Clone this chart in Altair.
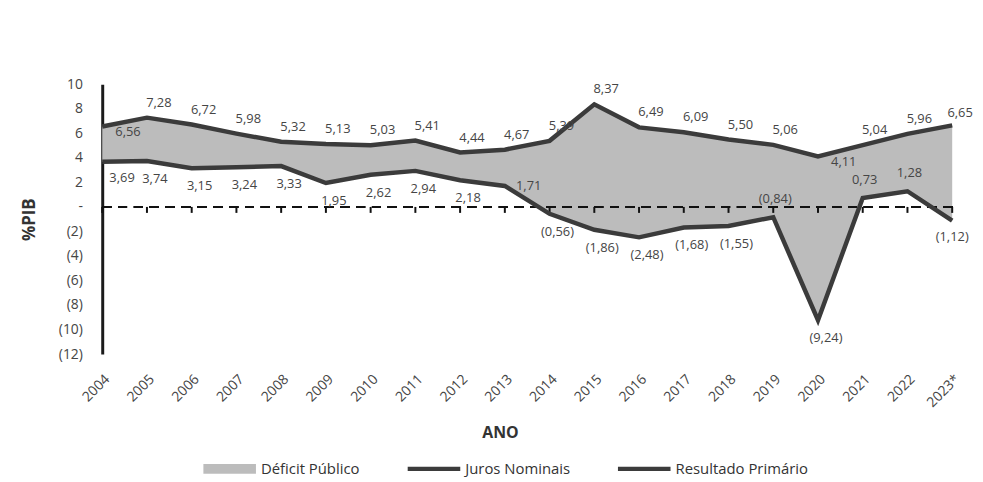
import altair as alt
import pandas as pd

# ---- data ----
ANOS = ["2004", "2005", "2006", "2007", "2008", "2009", "2010", "2011", "2012", "2013",
        "2014", "2015", "2016", "2017", "2018", "2019", "2020", "2021", "2022", "2023*"]
JUROS = [6.56, 7.28, 6.72, 5.98, 5.32, 5.13, 5.03, 5.41, 4.44, 4.67,
         5.39, 8.37, 6.49, 6.09, 5.50, 5.06, 4.11, 5.04, 5.96, 6.65]
PRIMARIO = [3.69, 3.74, 3.15, 3.24, 3.33, 1.95, 2.62, 2.94, 2.18, 1.71,
            -0.56, -1.86, -2.48, -1.68, -1.55, -0.84, -9.24, 0.73, 1.28, -1.12]
SERIES = ["Déficit Público", "Juros Nominais", "Resultado Primário"]
Y_TICKS = list(range(-12, 11, 2))

# label placement groups (which side of the line a value label sits)
JUROS_BELOW = ["2004", "2020"]
JUROS_EDGE = ["2023*"]
PRIM_ABOVE = ["2019", "2021", "2022"]
PRIM_RIGHT = ["2013"]
PRIM_EDGE = ["2004"]
PRIM_END = ["2023*"]

df = pd.DataFrame({"ano": ANOS, "juros": JUROS, "primario": PRIMARIO})
legend_df = pd.DataFrame({"serie": SERIES})

FONT = "Open Sans"
LINE_COLOR = "#3b3b3b"
AREA_COLOR = "#bcbcbc"
TEXT_COLOR = "#454545"

x_enc = alt.X(
    "ano:N", sort=ANOS,
    scale=alt.Scale(type="point", padding=0),
    axis=alt.Axis(
        title="ANO", titleFontSize=16, titleFontWeight="bold", titleColor="#333",
        titleX=401, titleY=79, titleBaseline="middle",
        labelAngle=-45, labelFontSize=14, labelColor=TEXT_COLOR, labelPadding=18,
        labelOverlap=False,
        domain=False, ticks=False, grid=False,
    ),
)
y_scale = alt.Scale(domain=[-12, 10], nice=False, zero=False)
y_axis = alt.Axis(
    title="%PIB", titleFontSize=17, titleFontWeight="bold", titleColor="#333",
    titlePadding=20,
    values=Y_TICKS, tickCount=12,
    labelExpr="datum.value == 0 ? '-' : (datum.value < 0 ? '(' + (-datum.value) + ')' : '' + datum.value)",
    labelFontSize=14, labelColor=TEXT_COLOR, labelPadding=20, labelOverlap=False,
    labelSeparation=0, labelBound=False, labelFlush=False,
    domain=True, domainColor="#1a1a1a", domainWidth=3,
    ticks=False, grid=False,
)

base = alt.Chart(df)

area = base.mark_area(color=AREA_COLOR, opacity=1).encode(
    x=x_enc,
    y=alt.Y("juros:Q", scale=y_scale, axis=y_axis),
    y2="primario:Q",
)

zero_line = base.mark_rule(color="#111", strokeWidth=2, strokeDash=[9, 7]).encode(
    y=alt.datum(0)
)
zero_ticks = base.mark_rule(color="#111", strokeWidth=2, y2Offset=6).encode(
    x=alt.X("ano:N", sort=ANOS),
    y=alt.datum(0),
    y2=alt.datum(0),
)

line_j = base.mark_line(color=LINE_COLOR, strokeWidth=4.5, strokeJoin="miter").encode(
    x=alt.X("ano:N", sort=ANOS), y="juros:Q"
)
line_p = base.mark_line(color=LINE_COLOR, strokeWidth=4.5, strokeJoin="miter").encode(
    x=alt.X("ano:N", sort=ANOS), y="primario:Q"
)

FMT = ("datum.v < 0 ? '(' + replace(format(-datum.v, '.2f'), '.', ',') + ')' "
       ": replace(format(datum.v, '.2f'), '.', ',')")


def labels(field, cond, dx, dy):
    return base.transform_calculate(v=f"datum.{field}").transform_calculate(
        txt=FMT
    ).transform_filter(cond).mark_text(
        font=FONT, fontSize=13, color=TEXT_COLOR, dx=dx, dy=dy,
        align="center", baseline="middle",
    ).encode(x=alt.X("ano:N", sort=ANOS), y=alt.Y(f"{field}:Q"), text="txt:N")


def in_list(lst):
    return "indexof([" + ",".join(f"'{a}'" for a in lst) + "], datum.ano) >= 0"


lab_j_above = labels("juros", "!(" + in_list(JUROS_BELOW + JUROS_EDGE) + ")", 12, -15)
lab_j_edge = labels("juros", in_list(JUROS_EDGE), 8, -12)
lab_j_below = labels("juros", in_list(JUROS_BELOW), 26, 6)
lab_p_below = labels("primario", "!(" + in_list(PRIM_ABOVE + PRIM_RIGHT + PRIM_EDGE + PRIM_END) + ")", 8, 18)
lab_p_edge = labels("primario", in_list(PRIM_EDGE), 20, 16)
lab_p_end = labels("primario", in_list(PRIM_END), 0, 16)
lab_p_above = labels("primario", in_list(PRIM_ABOVE), 2, -18)
lab_p_right = labels("primario", in_list(PRIM_RIGHT), 24, 0)

RECT_PATH = "M-1,-0.19H1V0.19H-1Z"
BAR_PATH = "M-1,-0.085H1V0.085H-1Z"
leg = alt.Legend(
    orient="none", legendX=102, legendY=361, direction="horizontal", title=None,
    symbolSize=2809, symbolStrokeWidth=0, labelFont=FONT, labelFontSize=15,
    labelColor="#333", columnPadding=48, labelOffset=5, padding=0, labelLimit=300,
)
legend_layer = alt.Chart(legend_df).transform_filter("false").mark_point(
    filled=True, opacity=1
).encode(
    color=alt.Color("serie:N", scale=alt.Scale(domain=SERIES, range=[AREA_COLOR, LINE_COLOR, LINE_COLOR]), legend=leg),
    shape=alt.Shape("serie:N", scale=alt.Scale(domain=SERIES, range=[RECT_PATH, BAR_PATH, BAR_PATH]), legend=leg),
)

chart = alt.layer(
    area, zero_line, zero_ticks, line_j, line_p,
    lab_j_above, lab_j_edge, lab_j_below,
    lab_p_below, lab_p_edge, lab_p_end, lab_p_above, lab_p_right,
    legend_layer,
).resolve_scale(color="independent", shape="independent").properties(
    width=857, height=272,
    autosize=alt.AutoSizeParams(type="none"),
    padding={"left": 95, "top": 75, "right": 23, "bottom": 122},
    background="white",
).configure(font=FONT).configure_view(strokeWidth=0).configure_axisY(
    labelOverlap=False
)

chart.save("out.html", embed_options={"renderer": "svg", "actions": False})
